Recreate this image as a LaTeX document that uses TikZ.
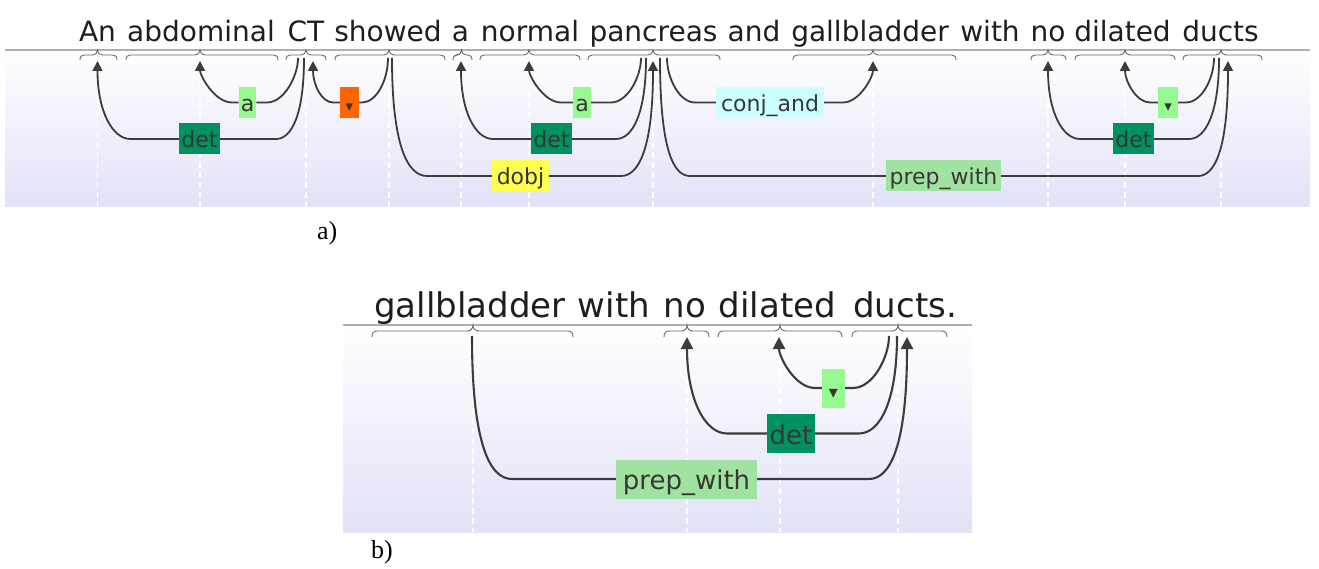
\documentclass[tikz,border=0pt]{standalone}
\usepackage{fontspec}
\setmainfont{DejaVu Sans}
\newfontfamily\capfont{Liberation Serif}
\usetikzlibrary{calc,arrows.meta}
\pgfdeclarelayer{back}
\pgfdeclarelayer{mid}
\pgfsetlayers{back,mid,main}
\definecolor{arcgray}{RGB}{60,60,60}
\definecolor{bracegray}{RGB}{105,105,105}
\definecolor{linegray}{RGB}{175,175,175}
\definecolor{bglav}{RGB}{226,226,248}
\definecolor{detgreen}{RGB}{0,145,95}
\definecolor{lightgreen}{RGB}{150,250,145}
\definecolor{orangelab}{RGB}{255,100,0}
\definecolor{yellowlab}{RGB}{255,255,80}
\definecolor{cyanlab}{RGB}{204,255,255}
\definecolor{prepgreen}{RGB}{160,226,160}
\definecolor{wordcol}{RGB}{30,30,30}
\definecolor{labtext}{RGB}{55,55,55}
\newcommand\govleg[5][arcline]{\draw[#1] (#2) .. controls ($(#2|-#3)+(0,-0.85*#5)$) and ($(#2|-#3)+(#4*0.45*#5,0)$) .. ($(#2|-#3)+(#4*#5,0)$) -- (#3);}
\newcommand\depleg[5][arcline,arrowtip]{\draw[#1] (#2) -- ($(#3|-#2)+(#4*#5,0)$) .. controls ($(#3|-#2)+(#4*0.45*#5,0)$) and ($(#3|-#2)+(0,-0.85*#5)$) .. (#3);}
\newcommand\wbrace[5]{\draw[bracestyle] (#1,#4+10*#5) .. controls (#1,#4+6.5*#5) and (#1+1.5*#5,#4+5*#5) .. (#1+4.5*#5,#4+5*#5) -- (#2-5*#5,#4+5*#5) .. controls (#2-2*#5,#4+5*#5) and (#2,#4+3*#5) .. (#2,#4) .. controls (#2,#4+3*#5) and (#2+2*#5,#4+5*#5) .. (#2+5*#5,#4+5*#5) -- (#3-4.5*#5,#4+5*#5) .. controls (#3-1.5*#5,#4+5*#5) and (#3,#4+6.5*#5) .. (#3,#4+10*#5);}
\newcommand\smalltri[1]{{\fontsize{#1}{#1}\selectfont ▾}}
\tikzset{
  word/.style={anchor=base, inner sep=0pt, text=wordcol, font=\fontsize{28}{30}\selectfont},
  wordb/.style={word, font=\fontsize{34}{36}\selectfont},
  lab/.style={inner xsep=2pt, inner ysep=0pt, minimum height=31pt, text height=22pt, text depth=4pt, text=labtext, font=\fontsize{22}{24}\selectfont},
  labb/.style={lab, minimum height=39pt, text height=26pt, text depth=5pt, font=\fontsize{26}{28}\selectfont},
  arcline/.style={draw=arcgray, line width=1.8pt},
  arclineb/.style={draw=arcgray, line width=2.1pt},
  arrowtip/.style={-{Triangle[length=10pt,width=10pt]}},
  arrowtipb/.style={-{Triangle[length=12pt,width=12pt]}},
  bracestyle/.style={draw=bracegray, line width=0.9pt},
  guide/.style={draw=white, line width=1.4pt, dash pattern=on 6pt off 4pt},
  topline/.style={draw=linegray, line width=1.3pt},
  capstyle/.style={anchor=base west, inner sep=0pt, font=\capfont\fontsize{26}{28}\selectfont}
}
\begin{document}
\begin{tikzpicture}[x=1pt,y=-1pt]
\useasboundingbox (0,0) rectangle (1319,569);
% ---------- panel a : words ----------
\node[word] (a-An) at (97.5,42) {An};
\node[word] (a-abdominal) at (201,42) {abdominal};
\node[word] (a-CT) at (306,42) {CT};
\node[word] (a-showed) at (388,42) {showed};
\node[word] (a-a) at (460.5,42) {a};
\node[word] (a-normal) at (530,42) {normal};
\node[word] (a-pancreas) at (653.5,42) {pancreas};
\node[word] (a-and) at (754,42) {and};
\node[word] (a-gallbladder) at (870,42) {gallbladder};
\node[word] (a-with) at (990,42) {with};
\node[word] (a-no) at (1048,42) {no};
\node[word] (a-dilated) at (1122.5,42) {dilated};
\node[word] (a-ducts) at (1220.5,42) {ducts};
% arc end points
\coordinate (CT-g1) at (298,58);
\coordinate (CT-g2) at (304,58);
\coordinate (sh-g1) at (388,58);
\coordinate (sh-g2) at (392,58);
\coordinate (pa-g1) at (641,58);
\coordinate (pa-g2) at (646,58);
\coordinate (pa-g3) at (660,58);
\coordinate (pa-g4) at (667,58);
\coordinate (du-g1) at (1214,58);
\coordinate (du-g2) at (1219,58);
\coordinate (An-d) at (97.5,61);
\coordinate (ab-d) at (200,61);
\coordinate (CT-d) at (313,61);
\coordinate (aa-d) at (461,61);
\coordinate (nm-d) at (529,61);
\coordinate (pa-d) at (653,61);
\coordinate (ga-d) at (873,61);
\coordinate (no-d) at (1048,61);
\coordinate (di-d) at (1125,61);
\coordinate (du-d) at (1228,61);
% labels
\node[lab, fill=detgreen, minimum width=39pt] (l-det1) at (199.5,139) {det};
\node[lab, fill=lightgreen, minimum width=17pt] (l-a1) at (247.5,102.5) {a};
\node[lab, fill=orangelab, minimum width=19pt] (l-nsubj) at (349.5,102.5) {\smalltri{15}};
\node[lab, fill=yellowlab, minimum width=57pt] (l-dobj) at (520.5,176) {dobj};
\node[lab, fill=lightgreen, minimum width=18pt] (l-a2) at (582,102.5) {a};
\node[lab, fill=detgreen, minimum width=39pt] (l-det2) at (551.5,139) {det};
\node[lab, fill=cyanlab, minimum width=108pt] (l-conj) at (770,102.5) {conj\_and};
\node[lab, fill=prepgreen, minimum width=115pt] (l-prep) at (943.5,176) {prep\_with};
\node[lab, fill=lightgreen, minimum width=20pt] (l-amod) at (1168,102.5) {\smalltri{15}};
\node[lab, fill=detgreen, minimum width=39pt] (l-det3) at (1133.5,139) {det};
\node[capstyle] (cap-a) at (317,240) {a)};
% ---------- panel b : words ----------
\node[wordb] (b-gallbladder) at (470,317) {gallbladder};
\node[wordb] (b-with) at (614,317) {with};
\node[wordb] (b-no) at (685,317) {no};
\node[wordb] (b-dilated) at (777.5,317) {dilated};
\node[wordb] (b-ducts) at (905,317) {ducts.};
\coordinate (bgb-g) at (472,336);
\coordinate (bdu-g1) at (889,336);
\coordinate (bdu-g2) at (897,336);
\coordinate (bno-d) at (687,337);
\coordinate (bdi-d) at (779,337);
\coordinate (bdu-d) at (907,337);
\node[labb, fill=lightgreen, minimum width=23pt] (lb-amod) at (833.5,388) {\smalltri{18}};
\node[labb, fill=detgreen, minimum width=48pt] (lb-det) at (791,433.5) {det};
\node[labb, fill=prepgreen, minimum width=141pt] (lb-prep) at (686.5,479) {prep\_with};
\node[capstyle] (cap-b) at (371,558) {b)};
% ---------- backgrounds ----------
\begin{pgfonlayer}{back}
  \shade[top color=white, bottom color=bglav] (5,50) rectangle (1310,207);
  \draw[topline] (5,50) -- (1310,50);
  \foreach \gx in {97.5,200,306,389,461,529,653,873,1048,1125,1221}
    \draw[guide] (\gx,62) -- (\gx,207);
  \wbrace{80}{97.5}{117}{50}{1}
  \wbrace{126}{200}{278}{50}{1}
  \wbrace{286}{306}{326}{50}{1}
  \wbrace{335}{389}{445}{50}{1}
  \wbrace{453}{461.5}{472}{50}{1}
  \wbrace{480}{529}{580}{50}{1}
  \wbrace{588}{653}{720}{50}{1}
  \wbrace{793}{873}{956}{50}{1}
  \wbrace{1031}{1048}{1066}{50}{1}
  \wbrace{1075}{1125}{1175}{50}{1}
  \wbrace{1183}{1221}{1262}{50}{1}
  \shade[top color=white, bottom color=bglav] (343,325) rectangle (972,532);
  \draw[topline] (343,325) -- (972,325);
  \foreach \gx in {473,687,780,898}
    \draw[guide] (\gx,338) -- (\gx,532);
  \wbrace{372}{473}{573}{325}{1.2}
  \wbrace{664}{687}{709}{325}{1.2}
  \wbrace{718}{780}{842}{325}{1.2}
  \wbrace{852}{898}{947}{325}{1.2}
\end{pgfonlayer}
% ---------- arcs ----------
\begin{pgfonlayer}{mid}
  \govleg{CT-g1}{l-a1}{-1}{31}   \depleg{l-a1}{ab-d}{1}{32}
  \govleg{CT-g2}{l-det1}{-1}{28} \depleg{l-det1}{An-d}{1}{33}
  \govleg{sh-g1}{l-nsubj}{-1}{26} \depleg{l-nsubj}{CT-d}{1}{20}
  \govleg{sh-g2}{l-dobj}{1}{35}  \depleg{l-dobj}{pa-d}{-1}{32}
  \govleg{pa-g1}{l-a2}{-1}{30}   \depleg{l-a2}{nm-d}{1}{32}
  \govleg{pa-g2}{l-det2}{-1}{30} \depleg{l-det2}{aa-d}{1}{32}
  \govleg{pa-g3}{l-prep}{1}{30}  \depleg{l-prep}{du-d}{-1}{30}
  \govleg{pa-g4}{l-conj}{1}{28}  \depleg{l-conj}{ga-d}{-1}{30}
  \govleg{du-g1}{l-amod}{-1}{28} \depleg{l-amod}{di-d}{1}{25}
  \govleg{du-g2}{l-det3}{-1}{30} \depleg{l-det3}{no-d}{1}{32}
  \govleg[arclineb]{bdu-g1}{lb-amod}{-1}{36} \depleg[arclineb,arrowtipb]{lb-amod}{bdi-d}{1}{36}
  \govleg[arclineb]{bdu-g2}{lb-det}{-1}{38}  \depleg[arclineb,arrowtipb]{lb-det}{bno-d}{1}{40}
  \govleg[arclineb]{bgb-g}{lb-prep}{1}{40}   \depleg[arclineb,arrowtipb]{lb-prep}{bdu-d}{-1}{38}
\end{pgfonlayer}
\end{tikzpicture}
\end{document}
